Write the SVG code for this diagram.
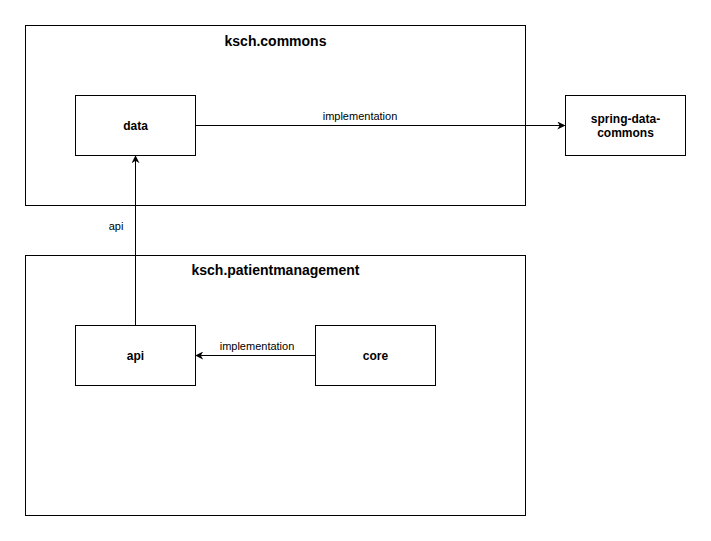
<svg xmlns="http://www.w3.org/2000/svg" width="711" height="541" viewBox="0 0 711 541">
<style>
.n{fill:#fff;stroke:#000;stroke-width:1}
.t{font-family:"Liberation Sans",Arial,sans-serif;font-weight:bold;font-size:12px;text-anchor:middle;fill:#000}
.h{font-family:"Liberation Sans",Arial,sans-serif;font-weight:bold;font-size:14px;text-anchor:middle;fill:#000}
.l{font-family:"Liberation Sans",Arial,sans-serif;font-size:11px;text-anchor:middle;fill:#000}
.e{stroke:#000;stroke-width:1;fill:none;marker-end:url(#a)}
</style>
<defs>
<marker id="a" viewBox="0 0 10 10" refX="9" refY="5" markerWidth="8" markerHeight="8" markerUnits="userSpaceOnUse" orient="auto">
<path d="M0,0 L10,5 L0,10 L3,5 Z" fill="#000"/>
</marker>
</defs>
<rect width="711" height="541" fill="#fff"/>
<g id="commons"><rect class="n" x="25.5" y="25.5" width="500" height="180"/><text class="h" x="275.5" y="46">ksch.commons</text></g>
<g id="patientmanagement"><rect class="n" x="25.5" y="255.5" width="500" height="260"/><text class="h" x="275.5" y="275">ksch.patientmanagement</text></g>
<g id="data"><rect class="n" x="75.5" y="95.5" width="120" height="60"/><text class="t" x="135.5" y="130">data</text></g>
<g id="spring-data-commons"><rect class="n" x="565.5" y="95.5" width="120" height="60"/><text class="t" x="625.5" y="123">spring-data-</text><text class="t" x="625.5" y="137">commons</text></g>
<g id="api"><rect class="n" x="75.5" y="325.5" width="120" height="60"/><text class="t" x="135.5" y="360">api</text></g>
<g id="core"><rect class="n" x="315.5" y="325.5" width="120" height="60"/><text class="t" x="375.5" y="360">core</text></g>
<g id="connectors">
<path class="e" d="M195.5,125.5 H564.5"/>
<text class="l" x="360" y="120">implementation</text>
<path class="e" d="M135.5,325.5 V156"/>
<text class="l" x="116" y="230">api</text>
<path class="e" d="M315.5,355.5 H196"/>
<text class="l" x="257" y="350">implementation</text>
</g>
</svg>
